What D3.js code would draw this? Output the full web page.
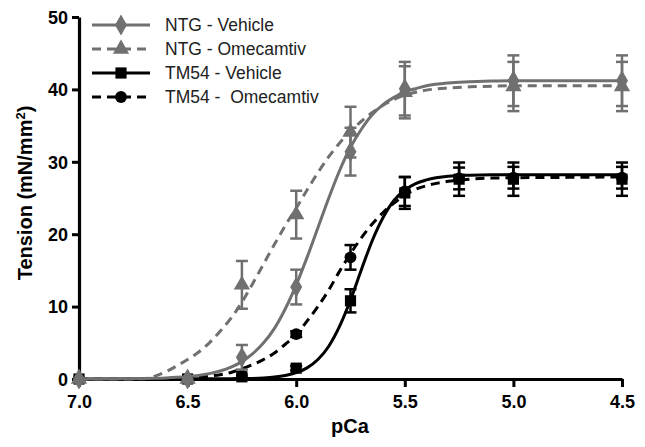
<!DOCTYPE html>
<html>
<head>
<meta charset="utf-8">
<script src="https://cdn.jsdelivr.net/npm/d3@7/dist/d3.min.js"></script>
<style>
  body { margin: 0; background: #fff; }
  svg { display: block; }
  text { font-family: "Liberation Sans", Arial, Helvetica, sans-serif; }
</style>
</head>
<body>
<svg id="chart" width="645" height="447"></svg>
<script>
// ---------- data ----------
const xTicks = [7.0, 6.5, 6.0, 5.5, 5.0, 4.5];
const yTicks = [0, 10, 20, 30, 40, 50];

const seriesNames = ["NTG - Vehicle", "NTG - Omecamtiv", "TM54 - Vehicle", "TM54 -  Omecamtiv"];

// measured points (mean ± SEM)
const ntgPCa = [7.0, 6.5, 6.25, 6.0, 5.75, 5.5, 5.0, 4.5];
const ntgVehMean = [0, 0, 3.0, 12.7, 31.4, 40.1, 41.2, 41.2];
const ntgVehErr  = [0, 0, 1.7, 2.4, 3.3, 3.7, 3.5, 3.5];
const ntgOmeMean = [0, 0, 13.0, 22.7, 34.1, 39.6, 40.4, 40.4];
const ntgOmeErr  = [0, 0, 3.3, 3.3, 3.5, 3.6, 3.4, 3.4];

const tmPCa = [7.0, 6.5, 6.25, 6.0, 5.75, 5.5, 5.25, 5.0, 4.5];
const tmVehMean = [0, 0, 0.3, 1.5, 10.8, 25.7, 27.6, 27.6, 27.6];
const tmVehErr  = [0, 0, 0, 0.3, 1.6, 2.2, 2.3, 2.3, 2.3];
const tmOmeMean = [0, 0, 0.5, 6.2, 16.8, 25.9, 27.7, 27.8, 27.8];
const tmOmeErr  = [0, 0, 0, 0.4, 1.7, 2.0, 1.5, 1.5, 1.5];

// fitted curves
const curvePCa = [7.0, 6.9, 6.8, 6.7, 6.65, 6.6, 6.55, 6.5, 6.45, 6.4, 6.35, 6.3, 6.25, 6.2, 6.15, 6.1, 6.05, 6.0,
                  5.95, 5.9, 5.85, 5.8, 5.75, 5.7, 5.65, 5.6, 5.55, 5.5, 5.45, 5.4, 5.3, 5.2, 5.1, 5.0, 4.75, 4.5];
const ntgVehCurve = [0, 0.01, 0.03, 0.07, 0.1, 0.15, 0.23, 0.34, 0.5, 0.74, 1.1, 1.63, 2.4, 3.5, 5.0, 7.0, 9.7, 13.0,
                     16.8, 20.9, 25.0, 28.8, 32.0, 34.5, 36.5, 37.9, 38.9, 39.7, 40.1, 40.5, 40.9, 41.05, 41.15, 41.2, 41.2, 41.2];
const ntgOmeCurve = [0, 0, 0, 0.05, 0.4, 1.0, 1.8, 2.7, 3.7, 5.0, 6.6, 8.4, 10.6, 13.2, 15.9, 18.6, 21.2, 23.6,
                     26.1, 28.5, 30.7, 32.6, 34.2, 35.6, 36.8, 37.8, 38.6, 39.2, 39.6, 39.9, 40.2, 40.35, 40.45, 40.5, 40.5, 40.5];
const tmVehCurve = [0, 0, 0, 0, 0, 0.01, 0.02, 0.02, 0.03, 0.04, 0.04, 0.05, 0.06, 0.08, 0.15, 0.27, 0.49, 0.87,
                    1.54, 2.69, 4.53, 7.29, 10.9, 15.1, 19.1, 22.3, 24.65, 26.1, 27.0, 27.5, 28.0, 28.15, 28.2, 28.2, 28.2, 28.2];
const tmOmeCurve = [0, 0, 0.01, 0.03, 0.05, 0.07, 0.1, 0.15, 0.25, 0.4, 0.6, 0.9, 1.4, 2.0, 2.7, 3.6, 4.8, 6.1,
                    8.0, 10.0, 12.3, 14.9, 17.3, 19.5, 21.4, 23.0, 24.3, 25.4, 26.2, 26.7, 27.3, 27.6, 27.75, 27.8, 27.85, 27.9];

// ---------- drawing ----------
const GRAY = "#707070", BLACK = "#000000";
const svg = d3.select("#chart");
const x = d3.scaleLinear().domain([7.0, 4.5]).range([79, 622]);
const y = d3.scaleLinear().domain([0, 50]).range([379, 17]);

// axes
const xAxis = svg.append("g").attr("transform", `translate(0,${y(0)})`)
  .call(d3.axisBottom(x).tickValues(xTicks).tickFormat(d3.format(".1f")).tickSize(8).tickSizeOuter(0));
const yAxis = svg.append("g").attr("transform", `translate(${x(7.0)},0)`)
  .call(d3.axisLeft(y).tickValues(yTicks).tickSize(7).tickSizeOuter(0));
[xAxis, yAxis].forEach(g => {
  g.select(".domain").attr("stroke", "#000").attr("stroke-width", 3.2);
  g.selectAll(".tick line").attr("stroke", "#000").attr("stroke-width", 3);
  g.selectAll(".tick text").attr("fill", "#000").style("font-size", "18px").style("font-weight", "bold")
    .style("font-family", '"Liberation Sans", Arial, sans-serif');
});
xAxis.selectAll(".tick text").attr("dy", "0").attr("y", 29);
yAxis.selectAll(".tick text").attr("x", -11).attr("dy", "0.35em");

svg.append("text").attr("x", 350).attr("y", 433).attr("text-anchor", "middle")
  .style("font-size", "20px").style("font-weight", "bold").text("pCa");

const yl = svg.append("text").attr("transform", "translate(32,193) rotate(-90)")
  .attr("text-anchor", "middle").style("font-size", "20px").style("font-weight", "bold");
yl.append("tspan").text("Tension (mN/mm");
yl.append("tspan").attr("baseline-shift", "super").style("font-size", "13px").text("2");
yl.append("tspan").text(")");

// series definitions
const series = [
  { name: seriesNames[2], color: BLACK, dash: null, sym: d3.symbolSquare, size: 125,
    pca: tmPCa, mean: tmVehMean, err: tmVehErr, curve: tmVehCurve },
  { name: seriesNames[3], color: BLACK, dash: "9,6", sym: d3.symbolCircle, size: 110,
    pca: tmPCa, mean: tmOmeMean, err: tmOmeErr, curve: tmOmeCurve },
  { name: seriesNames[0], color: GRAY, dash: null, sym: d3.symbolDiamond, size: 125,
    pca: ntgPCa, mean: ntgVehMean, err: ntgVehErr, curve: ntgVehCurve },
  { name: seriesNames[1], color: GRAY, dash: "9,6", sym: d3.symbolTriangle, size: 115,
    pca: ntgPCa, mean: ntgOmeMean, err: ntgOmeErr, curve: ntgOmeCurve },
];

const line = d3.line().x(d => x(d[0])).y(d => y(d[1])).curve(d3.curveMonotoneX);

series.forEach(s => {
  const g = svg.append("g");
  g.append("path").datum(curvePCa.map((p, i) => [p, s.curve[i]]))
    .attr("d", line).attr("fill", "none").attr("stroke", s.color).attr("stroke-width", 3)
    .attr("stroke-dasharray", s.dash);
  const pts = s.pca.map((p, i) => ({ p, m: s.mean[i], e: s.err[i] }));
  const eb = g.selectAll(".eb").data(pts.filter(d => d.e > 0)).join("g");
  eb.append("line").attr("x1", d => x(d.p)).attr("x2", d => x(d.p))
    .attr("y1", d => y(d.m + d.e)).attr("y2", d => y(d.m - d.e))
    .attr("stroke", s.color).attr("stroke-width", 2.5);
  [1, -1].forEach(sg => {
    eb.append("line").attr("x1", d => x(d.p) - 6).attr("x2", d => x(d.p) + 6)
      .attr("y1", d => y(d.m + sg * d.e)).attr("y2", d => y(d.m + sg * d.e))
      .attr("stroke", s.color).attr("stroke-width", 2.5);
  });
  g.selectAll(".pt").data(pts).join("path")
    .attr("transform", d => `translate(${x(d.p)},${y(d.m)})`)
    .attr("d", d3.symbol().type(s.sym).size(s.size)).attr("fill", s.color);
});

// legend
const legendOrder = [series[2], series[3], series[0], series[1]];
const rowY = [25, 49, 73, 97];
legendOrder.forEach((s, i) => {
  const g = svg.append("g").attr("transform", `translate(0,${rowY[i]})`);
  g.append("line").attr("x1", 92).attr("x2", 150).attr("y1", 0).attr("y2", 0)
    .attr("stroke", s.color).attr("stroke-width", 3).attr("stroke-dasharray", s.dash);
  g.append("path").attr("transform", "translate(121,0)")
    .attr("d", d3.symbol().type(s.sym).size(s.size)).attr("fill", s.color);
  g.append("text").attr("x", 165).attr("y", 6).style("font-size", "17.5px").style("white-space", "pre")
    .attr("fill", "#222").text(s.name);
});
</script>
</body>
</html>
